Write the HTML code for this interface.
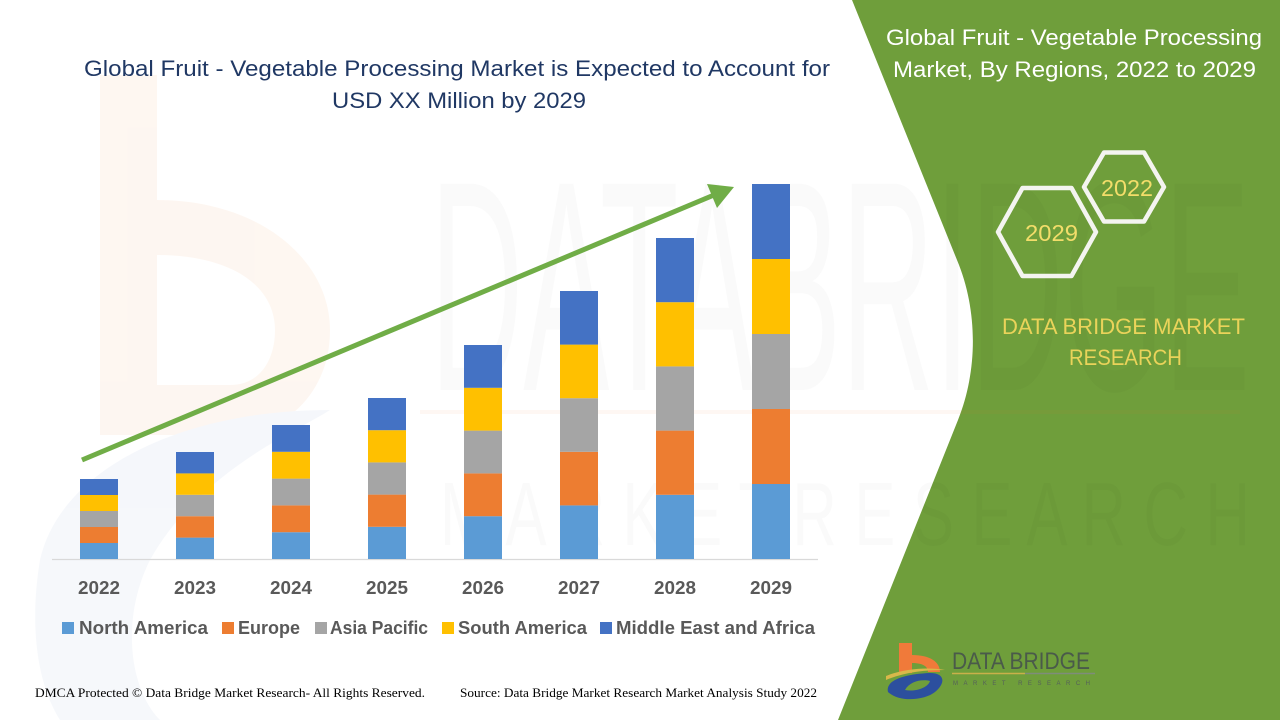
<!DOCTYPE html>
<html><head><meta charset="utf-8"><style>
html,body{margin:0;padding:0;background:#fff;}
svg{display:block;}
text{font-family:"Liberation Sans",sans-serif;}
</style></head><body>
<svg width="1280" height="720" viewBox="0 0 1280 720" xmlns="http://www.w3.org/2000/svg">
<rect width="1280" height="720" fill="#ffffff"/>
<!-- faint left watermark logo -->
<g opacity="0.55">
<rect x="100" y="75" width="57" height="360" fill="#fdf0e6"/>
<path d="M157,200 C260,200 330,260 330,330 C330,390 290,425 250,435 L157,435 L157,385 L230,385 C260,385 275,360 275,330 C275,285 230,255 157,255 Z" fill="#fdf0e6"/>
<path d="M40,560 C60,470 180,410 330,410 C300,430 200,470 150,560 C120,620 130,690 160,720 L60,720 C35,680 30,620 40,560 Z" fill="#eef2f8"/>
</g>
<!-- green panel -->
<path d="M852,0 L1280,0 L1280,720 L838,720 L958,420 C978,370 978,310 957,260 Z" fill="#6f9e3b"/>
<!-- big watermark text -->
<text x="430" y="390" font-size="300" textLength="820" lengthAdjust="spacingAndGlyphs" fill="#000" fill-opacity="0.02">DATABRIDGE</text>
<text x="440" y="545" font-size="90" textLength="810" lengthAdjust="spacingAndGlyphs" fill="#000" fill-opacity="0.02">M A R K E T   R E S E A R C H</text>
<line x1="420" y1="412" x2="1240" y2="412" stroke="#ed7d31" stroke-opacity="0.06" stroke-width="4"/>

<!-- title -->
<text x="84" y="76" font-size="22" fill="#203864" textLength="746" lengthAdjust="spacingAndGlyphs">Global Fruit - Vegetable Processing Market is Expected to Account for</text>
<text x="332" y="108" font-size="22" fill="#203864" textLength="254" lengthAdjust="spacingAndGlyphs">USD XX Million by 2029</text>

<!-- axis -->
<line x1="52" y1="559.5" x2="818" y2="559.5" stroke="#d9d9d9" stroke-width="1.2"/>

<!-- bars -->
<g>
<rect x="80" y="543" width="38" height="16" fill="#5b9bd5"/>
<rect x="80" y="527" width="38" height="16" fill="#ed7d31"/>
<rect x="80" y="511" width="38" height="16" fill="#a5a5a5"/>
<rect x="80" y="495" width="38" height="16" fill="#ffc000"/>
<rect x="80" y="479" width="38" height="16" fill="#4472c4"/>

<rect x="176" y="537.6" width="38" height="21.4" fill="#5b9bd5"/>
<rect x="176" y="516.2" width="38" height="21.4" fill="#ed7d31"/>
<rect x="176" y="494.8" width="38" height="21.4" fill="#a5a5a5"/>
<rect x="176" y="473.4" width="38" height="21.4" fill="#ffc000"/>
<rect x="176" y="452" width="38" height="21.4" fill="#4472c4"/>

<rect x="272" y="532.2" width="38" height="26.8" fill="#5b9bd5"/>
<rect x="272" y="505.4" width="38" height="26.8" fill="#ed7d31"/>
<rect x="272" y="478.6" width="38" height="26.8" fill="#a5a5a5"/>
<rect x="272" y="451.8" width="38" height="26.8" fill="#ffc000"/>
<rect x="272" y="425" width="38" height="26.8" fill="#4472c4"/>

<rect x="368" y="526.8" width="38" height="32.2" fill="#5b9bd5"/>
<rect x="368" y="494.6" width="38" height="32.2" fill="#ed7d31"/>
<rect x="368" y="462.4" width="38" height="32.2" fill="#a5a5a5"/>
<rect x="368" y="430.2" width="38" height="32.2" fill="#ffc000"/>
<rect x="368" y="398" width="38" height="32.2" fill="#4472c4"/>

<rect x="464" y="516.2" width="38" height="42.8" fill="#5b9bd5"/>
<rect x="464" y="473.4" width="38" height="42.8" fill="#ed7d31"/>
<rect x="464" y="430.6" width="38" height="42.8" fill="#a5a5a5"/>
<rect x="464" y="387.8" width="38" height="42.8" fill="#ffc000"/>
<rect x="464" y="345" width="38" height="42.8" fill="#4472c4"/>

<rect x="560" y="505.4" width="38" height="53.6" fill="#5b9bd5"/>
<rect x="560" y="451.8" width="38" height="53.6" fill="#ed7d31"/>
<rect x="560" y="398.2" width="38" height="53.6" fill="#a5a5a5"/>
<rect x="560" y="344.6" width="38" height="53.6" fill="#ffc000"/>
<rect x="560" y="291" width="38" height="53.6" fill="#4472c4"/>

<rect x="656" y="494.8" width="38" height="64.2" fill="#5b9bd5"/>
<rect x="656" y="430.6" width="38" height="64.2" fill="#ed7d31"/>
<rect x="656" y="366.4" width="38" height="64.2" fill="#a5a5a5"/>
<rect x="656" y="302.2" width="38" height="64.2" fill="#ffc000"/>
<rect x="656" y="238" width="38" height="64.2" fill="#4472c4"/>

<rect x="752" y="484" width="38" height="75" fill="#5b9bd5"/>
<rect x="752" y="409" width="38" height="75" fill="#ed7d31"/>
<rect x="752" y="334" width="38" height="75" fill="#a5a5a5"/>
<rect x="752" y="259" width="38" height="75" fill="#ffc000"/>
<rect x="752" y="184" width="38" height="75" fill="#4472c4"/>
</g>

<!-- arrow -->
<line x1="82" y1="460" x2="714" y2="195" stroke="#70ad47" stroke-width="5"/>
<polygon points="734,187 707,184 717,208" fill="#70ad47"/>

<!-- year labels -->
<g font-size="18" font-weight="bold" fill="#595959">
<text x="78" y="594" textLength="42" lengthAdjust="spacingAndGlyphs">2022</text>
<text x="174" y="594" textLength="42" lengthAdjust="spacingAndGlyphs">2023</text>
<text x="270" y="594" textLength="42" lengthAdjust="spacingAndGlyphs">2024</text>
<text x="366" y="594" textLength="42" lengthAdjust="spacingAndGlyphs">2025</text>
<text x="462" y="594" textLength="42" lengthAdjust="spacingAndGlyphs">2026</text>
<text x="558" y="594" textLength="42" lengthAdjust="spacingAndGlyphs">2027</text>
<text x="654" y="594" textLength="42" lengthAdjust="spacingAndGlyphs">2028</text>
<text x="750" y="594" textLength="42" lengthAdjust="spacingAndGlyphs">2029</text>
</g>

<!-- legend -->
<g font-size="18" font-weight="bold" fill="#595959">
<rect x="62" y="622" width="12" height="12" fill="#5b9bd5"/>
<text x="79" y="634" textLength="129" lengthAdjust="spacingAndGlyphs">North America</text>
<rect x="222" y="622" width="12" height="12" fill="#ed7d31"/>
<text x="238" y="634" textLength="62" lengthAdjust="spacingAndGlyphs">Europe</text>
<rect x="315" y="622" width="12" height="12" fill="#a5a5a5"/>
<text x="330" y="634" textLength="98" lengthAdjust="spacingAndGlyphs">Asia Pacific</text>
<rect x="442" y="622" width="12" height="12" fill="#ffc000"/>
<text x="458" y="634" textLength="129" lengthAdjust="spacingAndGlyphs">South America</text>
<rect x="600" y="622" width="12" height="12" fill="#4472c4"/>
<text x="616" y="634" textLength="199" lengthAdjust="spacingAndGlyphs">Middle East and Africa</text>
</g>

<!-- footer -->
<text x="35" y="697" font-size="13" fill="#000" textLength="390" lengthAdjust="spacingAndGlyphs" style="font-family:'Liberation Serif',serif">DMCA Protected © Data Bridge Market Research- All Rights Reserved.</text>
<text x="460" y="697" font-size="13" fill="#000" textLength="357" lengthAdjust="spacingAndGlyphs" style="font-family:'Liberation Serif',serif">Source: Data Bridge Market Research Market Analysis Study 2022</text>

<!-- right panel title -->
<text x="886" y="45" font-size="22" fill="#ffffff" textLength="376" lengthAdjust="spacingAndGlyphs">Global Fruit - Vegetable Processing</text>
<text x="893" y="77" font-size="22" fill="#ffffff" textLength="363" lengthAdjust="spacingAndGlyphs">Market, By Regions, 2022 to 2029</text>

<!-- hexagons -->
<polygon points="1084,187 1104,152.5 1144,152.5 1164,187 1144,221.5 1104,221.5" fill="none" stroke="#f4f4f0" stroke-width="4.5" stroke-linejoin="round"/>
<polygon points="998,232 1022.5,188 1071.5,188 1096,232 1071.5,276 1022.5,276" fill="none" stroke="#f4f4f0" stroke-width="4.5" stroke-linejoin="round"/>
<text x="1101" y="196" font-size="23" fill="#f3dd6a" textLength="52" lengthAdjust="spacingAndGlyphs">2022</text>
<text x="1025" y="241" font-size="23" fill="#f3dd6a" textLength="53" lengthAdjust="spacingAndGlyphs">2029</text>

<!-- DBMR text -->
<text x="1002" y="334" font-size="22" fill="#ead35a" textLength="243" lengthAdjust="spacingAndGlyphs">DATA BRIDGE MARKET</text>
<text x="1069" y="365" font-size="22" fill="#ead35a" textLength="113" lengthAdjust="spacingAndGlyphs">RESEARCH</text>

<!-- bottom logo -->
<g>
<rect x="899" y="643" width="13" height="30" fill="#f07a3a"/>
<path d="M912,655 C930,655 940,662 940,672 L928,672 C928,666 922,663 912,663 Z" fill="#f07a3a"/>
<path d="M886,676 C905,668 930,667 945,670 C925,670 905,672 886,680 Z" fill="#d9b84a"/>
<path d="M888,692 C885,680 905,674 930,673 C945,673 946,683 935,692 C925,700 900,703 888,692 Z M905,690 C915,692 928,688 930,681 C922,679 910,681 905,690 Z" fill="#2c4f9e"/>
<text x="952" y="669" font-size="24" fill="#4a5a4a" textLength="138" lengthAdjust="spacingAndGlyphs">DATA BRIDGE</text>
<line x1="952" y1="673.5" x2="1025" y2="673.5" stroke="#c9b04a" stroke-width="1.5"/>
<line x1="1025" y1="673.5" x2="1095" y2="673.5" stroke="#7f8c7a" stroke-width="1.5"/>
<text x="953" y="685" font-size="6" fill="#55605a" textLength="137" lengthAdjust="spacing">MARKET RESEARCH</text>
</g>
</svg>
</body></html>
